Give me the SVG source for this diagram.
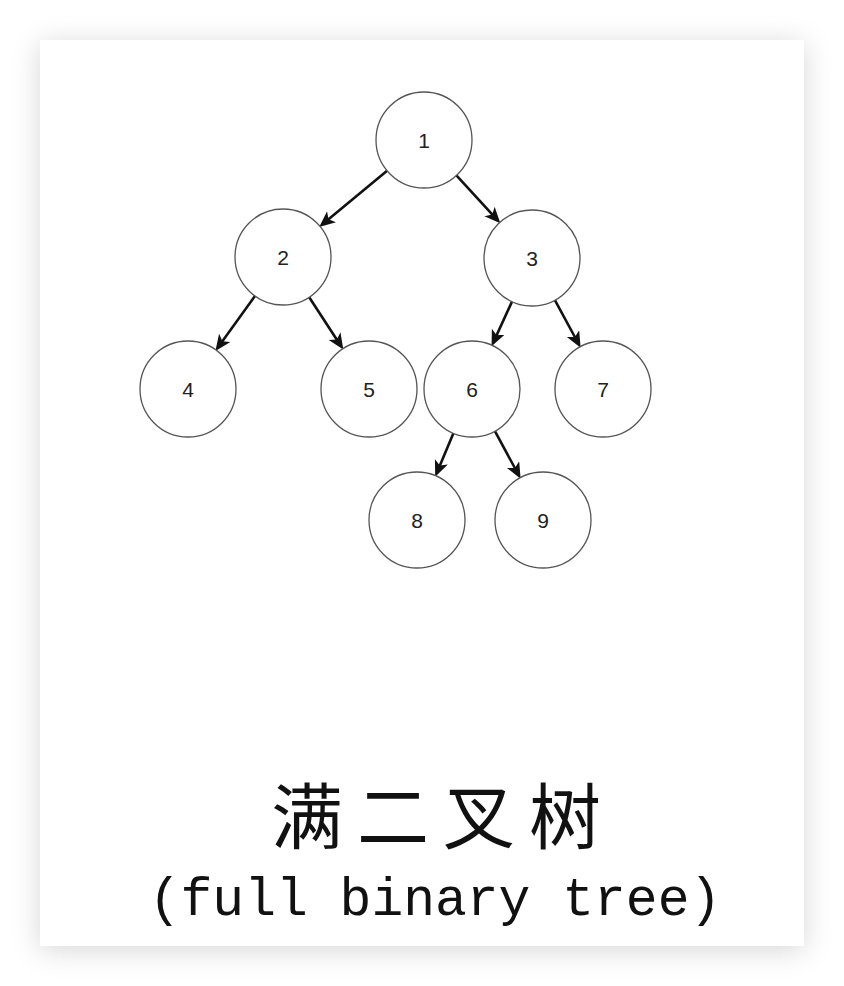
<svg xmlns="http://www.w3.org/2000/svg" width="844" height="986" viewBox="0 0 844 986">
<defs>
<filter id="sh" x="-20%" y="-20%" width="140%" height="140%">
<feDropShadow dx="0" dy="4" stdDeviation="14" flood-color="#000" flood-opacity="0.16"/>
</filter>
<marker id="ah" markerUnits="userSpaceOnUse" markerWidth="18" markerHeight="16" refX="9" refY="7" orient="auto">
<path d="M0,0 L16,7 L0,14 L4,7 z" fill="#111"/>
</marker>
<style>
.node circle{fill:#fff;stroke:#555;stroke-width:1.3}
.node text{font-family:"Liberation Sans",Arial,sans-serif;font-size:21px;fill:#222;text-anchor:middle;dominant-baseline:central}
.edge{stroke:#111;stroke-width:2.6;fill:none;marker-end:url(#ah)}
</style>
</defs>
<rect width="844" height="986" fill="#fff"/>
<rect x="40" y="40" width="764" height="906" fill="#fff" filter="url(#sh)"/>
<g id="connectors">
<line class="edge" x1="387.1" y1="170.7" x2="324.6" y2="222.5"/>
<line class="edge" x1="456.4" y1="175.4" x2="495.6" y2="218.2"/>
<line class="edge" x1="255.0" y1="296.0" x2="219.5" y2="345.2"/>
<line class="edge" x1="309.2" y1="297.2" x2="339.5" y2="343.7"/>
<line class="edge" x1="512.0" y1="301.6" x2="494.5" y2="339.9"/>
<line class="edge" x1="554.9" y1="300.2" x2="577.3" y2="341.5"/>
<line class="edge" x1="453.4" y1="433.3" x2="437.9" y2="470.2"/>
<line class="edge" x1="494.9" y1="431.2" x2="517.3" y2="472.5"/>
</g>
<g id="n1" class="node"><circle cx="424" cy="140" r="48"/><text x="424" y="140">1</text></g>
<g id="n2" class="node"><circle cx="283" cy="257" r="48"/><text x="283" y="257">2</text></g>
<g id="n3" class="node"><circle cx="532" cy="258" r="48"/><text x="532" y="258">3</text></g>
<g id="n4" class="node"><circle cx="188" cy="389" r="48"/><text x="188" y="389">4</text></g>
<g id="n5" class="node"><circle cx="369" cy="389" r="48"/><text x="369" y="389">5</text></g>
<g id="n6" class="node"><circle cx="472" cy="389" r="48"/><text x="472" y="389">6</text></g>
<g id="n7" class="node"><circle cx="603" cy="389" r="48"/><text x="603" y="389">7</text></g>
<g id="n8" class="node"><circle cx="417" cy="520" r="48"/><text x="417" y="520">8</text></g>
<g id="n9" class="node"><circle cx="543" cy="520" r="48"/><text x="543" y="520">9</text></g>
<g id="caption">
<text x="443" y="843" font-family="'Noto Sans CJK SC',sans-serif" font-size="72" font-weight="400" letter-spacing="14" text-anchor="middle" fill="#111">满二叉树</text>
<text x="435" y="915" font-family="'Liberation Mono','Courier New',monospace" font-size="53" text-anchor="middle" fill="#111">(full binary tree)</text>
</g>
</svg>
